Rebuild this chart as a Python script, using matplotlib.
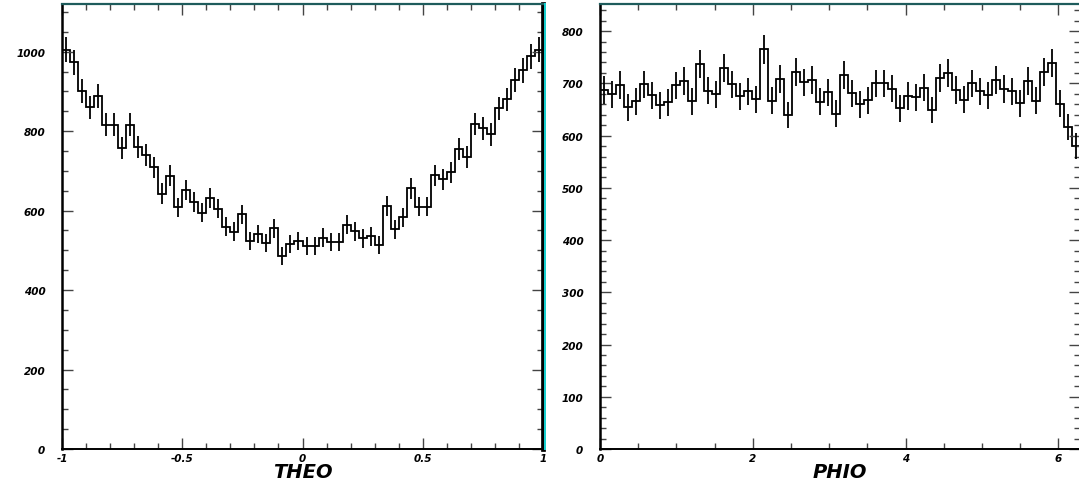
import matplotlib.pyplot as plt
import numpy as np
from matplotlib.ticker import MultipleLocator
from matplotlib.lines import Line2D

plt.rcParams['axes.unicode_minus'] = False
plt.rcParams['font.family'] = 'DejaVu Sans'

# bin contents (60 bins each)
theo_counts = [1005, 973, 902, 860, 889, 816, 816, 757, 816, 761,
               740, 709, 643, 688, 608, 652, 621, 595, 631, 605,
               560, 547, 591, 524, 541, 518, 555, 486, 516, 524,
               510, 510, 532, 520, 520, 564, 548, 530, 535, 513,
               612, 553, 583, 656, 610, 610, 689, 679, 696, 755,
               735, 818, 807, 792, 857, 880, 929, 953, 988, 1005]
phio_counts = [687, 679, 697, 654, 666, 698, 677, 658, 664, 696,
               704, 666, 737, 686, 679, 729, 698, 675, 685, 670,
               765, 667, 709, 639, 721, 702, 707, 665, 683, 642,
               716, 681, 660, 668, 700, 700, 690, 652, 676, 673,
               692, 649, 711, 720, 687, 669, 700, 685, 677, 706,
               689, 685, 662, 704, 667, 722, 739, 661, 617, 580]
theo_range = (-1, 1)
phio_range = (0, 2 * np.pi)

theo_ticks = [-1, -0.5, 0, 0.5, 1]
theo_labels = ['-1', '-0.5', '0', '0.5', '1']
phio_ticks = [0, 2, 4, 6]
phio_labels = ['0', '2', '4', '6']

fig = plt.figure(figsize=(10.79, 4.85), dpi=100)
W, H = 1079, 485
ax1 = fig.add_axes([62 / W, 35 / H, 481 / W, 445 / H])
ax2 = fig.add_axes([600 / W, 35 / H, 480 / W, 445 / H])

lab = dict(fontsize=7.5, fontweight='bold', fontstyle='italic')
title = dict(fontsize=14, fontweight='bold', fontstyle='italic')


def draw_hist(ax, counts, rng):
    counts = np.asarray(counts, dtype=float)
    edges = np.linspace(rng[0], rng[1], len(counts) + 1)
    centers = 0.5 * (edges[1:] + edges[:-1])
    ax.stairs(counts, edges, baseline=None, color='black', lw=1.3)
    ax.errorbar(centers, counts, yerr=np.sqrt(counts), fmt='none',
                ecolor='black', elinewidth=1.3, capsize=0)
    ax.set_xlim(rng)


def style(ax):
    for s in ['left', 'bottom']:
        ax.spines[s].set_color('black')
    ax.spines['left'].set_linewidth(1.8)
    ax.spines['bottom'].set_linewidth(1.4)
    ax.spines['top'].set_color('#1e5c5c')
    ax.spines['top'].set_linewidth(1.6)
    ax.tick_params(which='both', direction='in', top=True, right=True,
                   color='#444444', width=1.0)
    ax.tick_params(which='major', length=8)
    ax.tick_params(which='minor', length=4)
    ax.tick_params(axis='x', pad=3)
    ax.tick_params(axis='y', pad=12)


draw_hist(ax1, theo_counts, theo_range)
style(ax1)
ax1.set_ylim(0, 1120)
ax1.set_xticks(theo_ticks)
ax1.set_xticklabels(theo_labels, **lab)
ax1.xaxis.set_minor_locator(MultipleLocator(0.1))
ax1.set_yticks([0, 200, 400, 600, 800, 1000])
ax1.set_yticklabels(['0', '200', '400', '600', '800', '1000'], **lab)
ax1.yaxis.set_minor_locator(MultipleLocator(50))
ax1.spines['right'].set_color('black')
ax1.spines['right'].set_linewidth(3.4)
ax1.add_line(Line2D([1.004, 1.004], [0, 1], transform=ax1.transAxes,
                    color='#19d3d3', lw=1.4, clip_on=False, zorder=5))
ax1.set_xlabel('THEO', labelpad=-1, **title)

draw_hist(ax2, phio_counts, phio_range)
style(ax2)
ax2.spines['right'].set_visible(False)
ax2.set_ylim(0, 852)
ax2.set_xticks(phio_ticks)
ax2.set_xticklabels(phio_labels, **lab)
ax2.xaxis.set_minor_locator(MultipleLocator(0.5))
ax2.set_yticks(range(0, 900, 100))
ax2.set_yticklabels([str(v) for v in range(0, 900, 100)], **lab)
ax2.yaxis.set_minor_locator(MultipleLocator(20))
ax2.set_xlabel('PHIO', labelpad=-1, **title)

fig.savefig('out.png', dpi=100)
